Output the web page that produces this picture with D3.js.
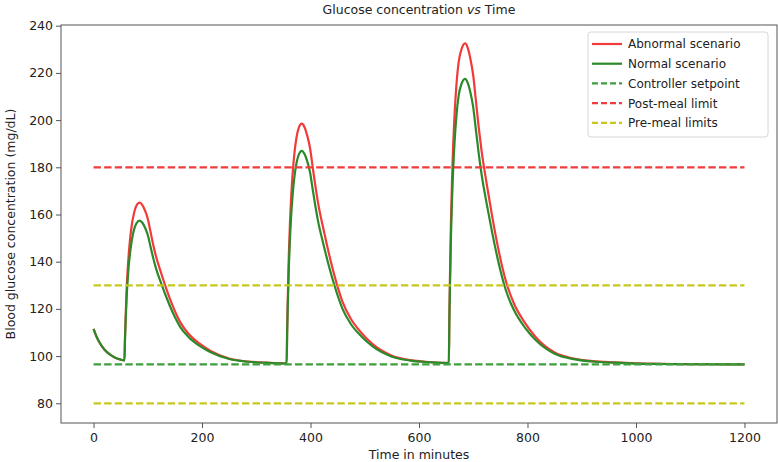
<!DOCTYPE html>
<html>
<head>
<meta charset="utf-8">
<script src="https://cdn.jsdelivr.net/npm/d3@7"></script>
<style>
  html, body { margin: 0; padding: 0; background: #fff; }
  svg text { font-family: "DejaVu Sans", Verdana, sans-serif; fill: #222; }
</style>
</head>
<body>
<svg id="chart" width="778" height="462"></svg>
<script>
// ---------------- data ----------------
const times = [
  0, 5, 10, 15, 20, 30, 40, 50, 57,
  58, 59, 61, 63, 65, 68, 71, 75, 79, 85,
  90, 95, 100, 105, 110, 115, 125, 135, 145, 160, 175, 195, 215, 250, 285, 320, 356,
  357, 358, 360, 362, 364, 367, 370, 374, 378, 384,
  389, 394, 399, 404, 409, 414, 424, 434, 444, 459, 474, 494, 514, 549, 584, 619, 655,
  656, 657, 659, 661, 663, 666, 669, 673, 678, 685,
  690, 695, 700, 705, 710, 715, 725, 735, 745, 760, 775, 795, 815, 850, 885, 920, 960,
  1000, 1050, 1100, 1150, 1200
];
const abnormal = [
  111.5, 108.5, 106.2, 104.3, 102.8, 100.7, 99.3, 98.5, 98.2,
  108.2, 115.6, 128.3, 136.9, 143.6, 151.0, 156.3, 161.0, 163.7, 165.0,
  164.0, 161.6, 158.2, 152.7, 147.2, 142.4, 134.9, 128.0, 121.8, 114.3, 109.5, 105.4, 102.3, 99.0, 97.7, 97.2, 96.9,
  112.1, 123.3, 142.6, 155.8, 166.0, 177.2, 185.3, 192.4, 196.5, 198.5,
  197.0, 193.4, 188.3, 180.1, 172.0, 164.8, 153.6, 143.4, 134.2, 123.0, 115.9, 109.8, 105.2, 100.3, 98.3, 97.5, 97.1,
  117.4, 132.3, 158.0, 175.6, 189.2, 204.1, 214.9, 224.4, 229.8, 232.5,
  230.5, 225.7, 218.9, 208.0, 197.1, 187.6, 172.7, 159.1, 146.8, 131.9, 122.3, 114.2, 108.1, 101.5, 98.95, 97.86, 97.3,
  96.9, 96.7, 96.6, 96.55, 96.5
];
const normal = [
  111.5, 108.5, 106.2, 104.3, 102.8, 100.7, 99.3, 98.5, 98.2,
  107.1, 113.6, 124.8, 132.5, 138.5, 145.0, 149.7, 153.9, 156.2, 157.4,
  156.5, 154.4, 151.3, 146.4, 141.6, 137.3, 130.6, 124.5, 119.0, 112.3, 108.1, 104.4, 101.7, 98.75, 97.6, 97.1, 96.87,
  110.4, 120.3, 137.4, 149.2, 158.2, 168.1, 175.3, 181.6, 185.2, 187.0,
  185.6, 182.5, 178.0, 170.7, 163.5, 157.1, 147.2, 138.1, 130.0, 120.0, 113.7, 108.3, 104.2, 99.85, 98.1, 97.4, 97.0,
  115.2, 128.4, 151.3, 166.9, 179.0, 192.2, 201.8, 210.3, 215.1, 217.5,
  215.7, 211.5, 205.4, 195.7, 186.0, 177.6, 164.3, 152.2, 141.3, 128.0, 119.5, 112.2, 106.8, 101.0, 98.7, 97.7, 97.2,
  96.85, 96.65, 96.55, 96.52, 96.5
];
const setpoint = 96.5;
const postMealLimit = 180;
const preMealLimits = [80, 130];
const limitSpan = [0, 1200];
const xTicks = [0, 200, 400, 600, 800, 1000, 1200];
const yTicks = [80, 100, 120, 140, 160, 180, 200, 220, 240];
const legendLabels = ["Abnormal scenario", "Normal scenario", "Controller setpoint", "Post-meal limit", "Pre-meal limits"];

// ---------------- layout ----------------
const svg = d3.select("#chart");
const L = 61, R = 777, T = 25, B = 423;
const FS = 12.5;
const x = d3.scaleLinear().domain([-60, 1260]).range([L, R]);
const y = d3.scaleLinear().domain([71.65, 240.3]).range([B, T]);

const C = {
  red: "#f23a3a",
  green: "#2a8a2a",
  setpoint: "#3d9f3d",
  post: "#f03c3c",
  pre: "#c8c81e"
};

// curves
const line = d3.line().x(d => x(d[0])).y(d => y(d[1])).curve(d3.curveMonotoneX);
const abnPts = times.map((t, i) => [t, abnormal[i]]);
const norPts = times.map((t, i) => [t, normal[i]]);

const plot = svg.append("g");
plot.append("path").attr("d", line(abnPts)).attr("fill", "none")
  .attr("stroke", C.red).attr("stroke-width", 2.2).attr("stroke-linejoin", "round");
plot.append("path").attr("d", line(norPts)).attr("fill", "none")
  .attr("stroke", C.green).attr("stroke-width", 2.2).attr("stroke-linejoin", "round");

function hline(v, color) {
  plot.append("line")
    .attr("x1", x(limitSpan[0])).attr("x2", x(limitSpan[1]))
    .attr("y1", y(v)).attr("y2", y(v))
    .attr("stroke", color).attr("stroke-width", 2.2)
    .attr("stroke-dasharray", "7.4,3.2");
}
hline(setpoint, C.setpoint);
hline(postMealLimit, C.post);
preMealLimits.forEach(v => hline(v, C.pre));

// frame
svg.append("rect").attr("x", L).attr("y", T).attr("width", R - L).attr("height", B - T)
  .attr("fill", "none").attr("stroke", "#555").attr("stroke-width", 1);

// axes
const xAxis = svg.append("g").attr("transform", `translate(0,${B})`)
  .call(d3.axisBottom(x).tickValues(xTicks).tickSize(5).tickPadding(5).tickFormat(d3.format("d")));
const yAxis = svg.append("g").attr("transform", `translate(${L},0)`)
  .call(d3.axisLeft(y).tickValues(yTicks).tickSize(5).tickPadding(3).tickFormat(d3.format("d")));
[xAxis, yAxis].forEach(g => {
  g.select(".domain").remove();
  g.selectAll(".tick line").attr("stroke", "#555");
  g.selectAll(".tick text").attr("font-size", FS).attr("fill", "#222")
    .style("font-family", '"DejaVu Sans", Verdana, sans-serif');
});

// labels
svg.append("text").attr("x", (L + R) / 2).attr("y", 14).attr("text-anchor", "middle")
  .attr("font-size", FS)
  .call(t => {
    t.append("tspan").text("Glucose concentration ");
    t.append("tspan").attr("font-style", "italic").text("vs");
    t.append("tspan").text(" Time");
  });
svg.append("text").attr("x", (L + R) / 2).attr("y", 459).attr("text-anchor", "middle")
  .attr("font-size", FS).text("Time in minutes");
svg.append("text").attr("transform", `translate(15,${(T + B) / 2}) rotate(-90)`)
  .attr("text-anchor", "middle").attr("font-size", FS)
  .text("Blood glucose concentration (mg/dL)");

// legend
const lg = svg.append("g").attr("transform", "translate(588,32)");
lg.append("rect").attr("width", 180).attr("height", 105).attr("rx", 3)
  .attr("fill", "rgba(255,255,255,0.85)").attr("stroke", "#d6d6d6");
const lItems = [
  { c: C.red, dash: null },
  { c: C.green, dash: null },
  { c: C.setpoint, dash: "6,3" },
  { c: C.post, dash: "6,3" },
  { c: C.pre, dash: "6,3" }
];
legendLabels.forEach((lab, i) => {
  const yy = 12 + i * 19.7;
  lg.append("line").attr("x1", 4).attr("x2", 34).attr("y1", yy).attr("y2", yy)
    .attr("stroke", lItems[i].c).attr("stroke-width", 2.2)
    .attr("stroke-dasharray", lItems[i].dash);
  lg.append("text").attr("x", 40).attr("y", yy + 4.4).attr("font-size", 12).text(lab);
});
</script>
</body>
</html>
